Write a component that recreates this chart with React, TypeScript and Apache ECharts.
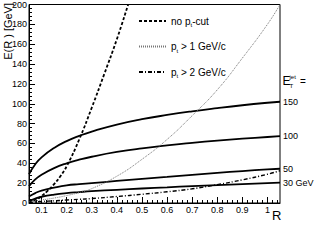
import React, { useEffect, useRef } from "react";
import * as echarts from "echarts";

// R values
const rGrid = [0.05, 0.075, 0.1, 0.15, 0.2, 0.25, 0.3, 0.4, 0.5, 0.6, 0.7, 0.8, 0.9, 1.0, 1.05];
// solid curves: E(R) for E_T^jet = 150, 100, 50, 30 GeV
const e150 = [29, 39, 46, 55.5, 62.4, 67.7, 72, 79, 84.4, 88.7, 92.4, 95.6, 98.5, 101, 102];
const e100 = [17, 23.8, 28.5, 35.2, 40, 43.6, 46.6, 51.4, 55.1, 58.1, 60.6, 62.8, 64.8, 66.5, 67.3];
const e50 = [6.5, 10, 12.5, 15.5, 17.8, 19, 20, 22.2, 24.3, 26.3, 28.4, 30.4, 32.2, 33.8, 34.5];
const e30 = [2, 4.5, 6.3, 8.5, 10, 11, 11.9, 13.3, 14.6, 15.8, 17, 18.1, 19.1, 20.1, 20.6];
// pt > 1 GeV/c and pt > 2 GeV/c on the same R grid
const ePt1 = [1, 2, 3, 5, 7.5, 10.5, 14.5, 27, 44, 64, 88, 114, 146, 180, 200];
const ePt2 = [0.5, 1, 1.5, 2.2, 3, 3.7, 4.5, 6.5, 8.8, 11.3, 14.3, 18.5, 23.3, 29, 32.5];
// no pt-cut curve
const rNoCut = [0.05, 0.075, 0.1, 0.125, 0.15, 0.175, 0.2, 0.25, 0.3, 0.35, 0.4, 0.445];
const eNoCut = [0.5, 3, 7, 12.5, 19, 27, 37, 64, 96, 130, 165, 200];

const curveLabels = ["150", "100", "50", "30 GeV"];
const xTicks = [0.1, 0.2, 0.3, 0.4, 0.5, 0.6, 0.7, 0.8, 0.9, 1.0];
const xMin = 0.05;
const xMax = 1.05;

const FONT = "'Liberation Sans', Arial, Helvetica, sans-serif";

const pairs = (xs: number[], ys: number[]) => xs.map((x, i) => [x, ys[i]]);

export default function App() {
  const ref = useRef<HTMLDivElement>(null);
  useEffect(() => {
    if (!ref.current) return;
    const chart = echarts.init(ref.current, undefined, { renderer: "svg" });

    const minor: number[] = [];
    for (let k = 3; k <= 52; k++) {
      const v = Math.round(k * 2) / 100;
      if (Math.round(v * 100) % 10 !== 0) minor.push(v);
    }

    const solid = (name: string, ys: number[], label: string) => ({
      name,
      type: "line",
      data: pairs(rGrid, ys),
      smooth: 0.5,
      symbol: "none",
      lineStyle: { color: "#000", width: 1.8, type: "solid" },
      endLabel: {
        show: true,
        formatter: label,
        color: "#000",
        fontSize: 9,
        fontFamily: FONT,
        distance: 3,
      },
      z: 3,
    });

    const rich = {
      a: { fontSize: 10, fontFamily: FONT, color: "#000", lineHeight: 14 },
      s: { fontSize: 6, fontFamily: FONT, color: "#000", verticalAlign: "bottom", lineHeight: 8 },
    };

    chart.setOption({
      animation: false,
      backgroundColor: "#fff",
      grid: {
        left: 29,
        right: 36,
        top: 3,
        bottom: 47,
        show: true,
        borderColor: "#000",
        borderWidth: 1,
      },
      legend: {
        orient: "vertical",
        left: 133,
        top: 11,
        itemWidth: 27,
        itemHeight: 12,
        itemGap: 13.5,
        data: ["nocut", "pt1", "pt2"],
        itemStyle: { opacity: 0 },
        formatter: (n: string) =>
          n === "nocut"
            ? "{a|no p}{s|t}{a|-cut}"
            : n === "pt1"
            ? "{a|p}{s|t}{a| > 1 GeV/c}"
            : "{a|p}{s|t}{a| > 2 GeV/c}",
        textStyle: { fontSize: 10, fontFamily: FONT, color: "#000", rich },
      },
      xAxis: [
        {
          type: "value",
          min: xMin,
          max: xMax,
          position: "bottom",
          axisLine: { show: true, onZero: false, lineStyle: { color: "#000", width: 1 } },
          axisTick: {
            show: true,
            inside: true,
            length: 6,
            customValues: xTicks,
            lineStyle: { color: "#000", width: 1 },
          },
          axisLabel: {
            show: true,
            customValues: xTicks,
            formatter: (v: number) => String(Number(v.toFixed(1))),
            color: "#000",
            fontSize: 9,
            fontFamily: FONT,
            margin: 2,
          },
          splitLine: { show: false },
        },
        {
          type: "value",
          min: xMin,
          max: xMax,
          position: "bottom",
          axisLine: { show: false },
          axisTick: {
            show: true,
            inside: true,
            length: 3,
            customValues: minor,
            lineStyle: { color: "#000", width: 1 },
          },
          axisLabel: { show: false },
          splitLine: { show: false },
        },
      ],
      yAxis: {
        type: "value",
        min: 0,
        max: 200,
        interval: 20,
        axisLine: { show: true, lineStyle: { color: "#000", width: 1 } },
        axisTick: { show: true, inside: true, length: 6, lineStyle: { color: "#000", width: 1 } },
        minorTick: { show: true, splitNumber: 5, length: 3, lineStyle: { color: "#000", width: 1 } },
        axisLabel: { color: "#000", fontSize: 9, fontFamily: FONT, margin: 2 },
        splitLine: { show: false },
      },
      series: [
        solid("150", e150, curveLabels[0]),
        solid("100", e100, curveLabels[1]),
        solid("50", e50, curveLabels[2]),
        solid("30", e30, curveLabels[3]),
        {
          name: "nocut",
          type: "line",
          data: pairs(rNoCut, eNoCut),
          smooth: 0.5,
          symbol: "none",
          lineStyle: { color: "#000", width: 1.8, type: [3, 2] },
          itemStyle: { color: "#000" },
        },
        {
          name: "pt1",
          type: "line",
          data: pairs(rGrid, ePt1),
          smooth: 0.5,
          symbol: "none",
          lineStyle: { color: "#777", width: 1, type: [1, 1] },
          itemStyle: { color: "#777" },
        },
        {
          name: "pt2",
          type: "line",
          data: pairs(rGrid, ePt2),
          smooth: 0.5,
          symbol: "none",
          lineStyle: { color: "#000", width: 1.4, type: [4, 2, 1, 2] },
          itemStyle: { color: "#000" },
        },
      ],
      graphic: [
        {
          type: "text",
          x: 8,
          y: 3,
          rotation: Math.PI / 2,
          style: {
            text: "E(R ) [GeV]",
            fontSize: 11,
            fontFamily: FONT,
            fill: "#000",
            textAlign: "right",
            textVerticalAlign: "middle",
          },
        },
        {
          type: "text",
          x: 272,
          y: 215,
          style: {
            text: "R",
            fontSize: 13,
            fontFamily: FONT,
            fill: "#000",
            textAlign: "left",
            textVerticalAlign: "middle",
          },
        },
        {
          type: "group",
          children: [
            {
              type: "text",
              x: 282.5,
              y: 81,
              style: { text: "E", fontSize: 12, fontFamily: FONT, fill: "#000", textVerticalAlign: "middle" },
            },
            {
              type: "text",
              x: 289.5,
              y: 77,
              style: { text: "jet", fontSize: 6, fontFamily: FONT, fill: "#000", textVerticalAlign: "middle" },
            },
            {
              type: "text",
              x: 289.5,
              y: 85.5,
              style: { text: "T", fontSize: 6, fontFamily: FONT, fill: "#000", textVerticalAlign: "middle" },
            },
            {
              type: "text",
              x: 300,
              y: 81,
              style: { text: "=", fontSize: 10, fontFamily: FONT, fill: "#000", textVerticalAlign: "middle" },
            },
          ],
        },
      ],
    });

    return () => chart.dispose();
  }, []);

  return (
    <div
      ref={ref}
      style={{ position: "absolute", left: 0, top: 0, width: 316, height: 250, background: "#fff" }}
    />
  );
}
